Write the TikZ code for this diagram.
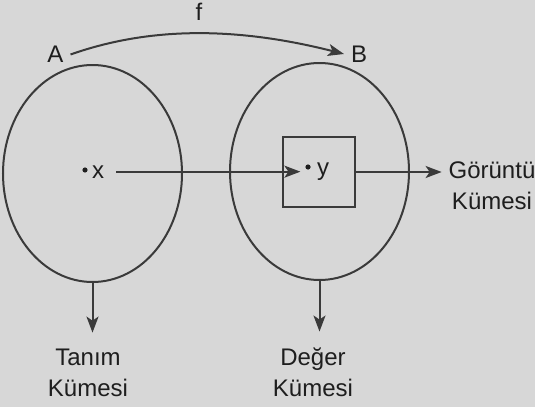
\documentclass[tikz,border=0pt]{standalone}
\usepackage{fontspec}
\setmainfont{Liberation Sans}
\usetikzlibrary{positioning,shapes.geometric,arrows.meta}
\definecolor{paper}{HTML}{D7D7D7}
\definecolor{ink}{HTML}{3A3A3A}
\definecolor{txt}{HTML}{1E1E1E}

\begin{document}
\begin{tikzpicture}[
  x=0.5pt, y=-0.5pt,
  font=\fontsize{12}{15.5}\selectfont,
  line width=1pt,
  set/.style={draw=ink, ellipse, minimum width=89.5pt, minimum height=108.5pt, inner sep=0pt},
  imgbox/.style={draw=ink, minimum width=36pt, minimum height=35pt, inner sep=0pt},
  lbl/.style={text=txt, align=center, inner sep=3pt},
  ptl/.style={text=txt, inner sep=0pt, anchor=base west},
  pt/.style={circle, fill=txt, inner sep=0pt, minimum size=2.6pt},
  arr/.style={-{Stealth[length=8pt, width=6pt, inset=2pt]}, draw=ink},
]

% paper
\fill[paper] (0,0) rectangle (535,407);
\useasboundingbox (0,0) rectangle (535,407);

% sets
\node[set] (tanim) at (92.5,173.5) {};
\node[set] (deger) at (319.5,171.5) {};
\node[imgbox] (gor) at (319,172) {};

% set names and f
\node[lbl] (A) at (55.5,54.5) {A};
\node[lbl] (B) at (359,54) {B};
\node[lbl] (f) at (199,12) {f};
\draw[arr] (A.east) .. controls +(71,-25) and +(-118,-30) .. (B.west);

% elements
\node[pt] (xdot) at (85,170) {};
\node[ptl] (xl) at (91,178) {x};
\node[pt] (ydot) at (308,167) {};
\node[ptl] (yl) at (316,175) {y};
\draw[arr, shorten <=5.5pt, shorten >=2pt] (xl.east) -- (xl.east -| ydot.west);

% set captions
\node[lbl] (tk) at (88,372.5) {Tanım\\Kümesi};
\node[lbl] (dk) at (313,372) {Değer\\Kümesi};
\node[lbl] (gk) at (492,185.5) {Görüntü\\Kümesi};

\draw[arr, shorten >=4.5pt] (tanim.south) -- (tanim.south |- tk.north);
\draw[arr, shorten >=4.5pt] (deger.south) -- (deger.south |- dk.north);
\draw[arr] (gor.east) -- (gor.east -| gk.west);

\end{tikzpicture}
\end{document}
